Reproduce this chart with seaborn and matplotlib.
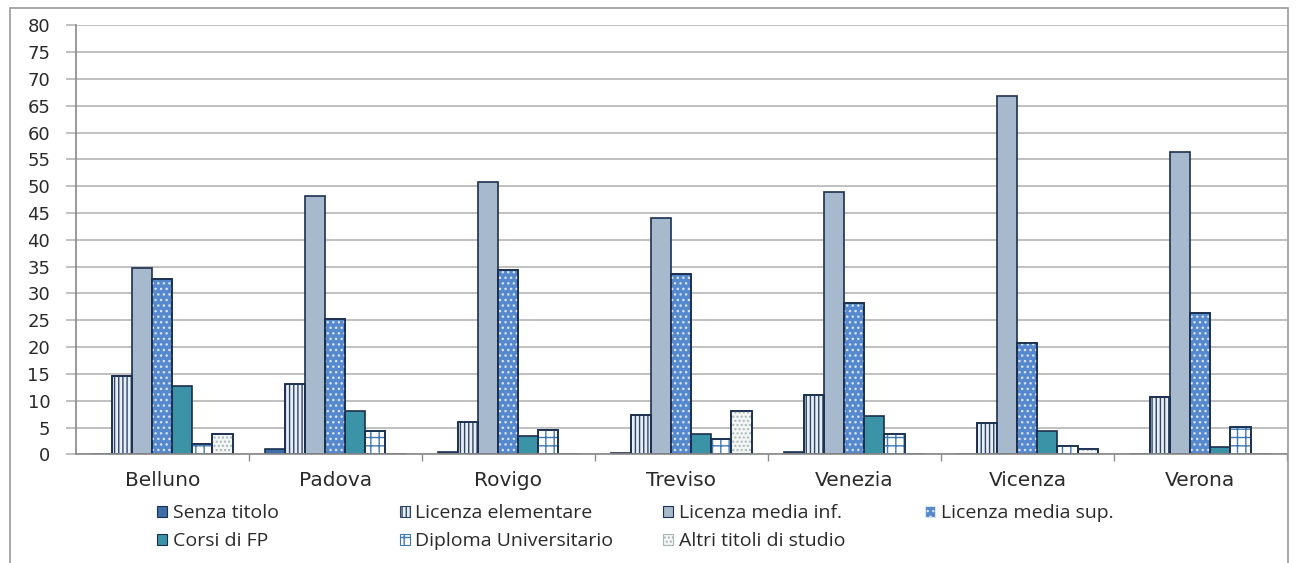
import pandas as pd
import matplotlib.pyplot as plt
import seaborn as sns
from matplotlib.patches import Rectangle, Patch

provinces = ["Belluno", "Padova", "Rovigo", "Treviso", "Venezia", "Vicenza", "Verona"]
levels = ["Senza titolo", "Licenza elementare", "Licenza media inf.",
          "Licenza media sup.", "Corsi di FP", "Diploma Universitario",
          "Altri titoli di studio"]

senza_titolo = [0.0, 1.0, 0.4, 0.3, 0.4, 0.0, 0.0]
lic_elementare = [14.7, 13.1, 6.1, 7.4, 11.0, 5.9, 10.7]
lic_media_inf = [34.7, 48.2, 50.8, 44.0, 49.0, 66.8, 56.4]
lic_media_sup = [32.7, 25.3, 34.4, 33.6, 28.2, 20.7, 26.4]
corsi_fp = [12.7, 8.1, 3.4, 3.7, 7.2, 4.3, 1.3]
diploma_univ = [2.0, 4.3, 4.6, 2.9, 3.8, 1.5, 5.1]
altri_titoli = [3.8, 0.0, 0.0, 8.1, 0.0, 1.0, 0.0]

series = [senza_titolo, lic_elementare, lic_media_inf, lic_media_sup,
          corsi_fp, diploma_univ, altri_titoli]

rows = []
for lev, vals in zip(levels, series):
    for prov, v in zip(provinces, vals):
        rows.append({"provincia": prov, "titolo": lev, "valore": v})
df = pd.DataFrame(rows)

EDGE = "#1c2f4f"
# face colour, hatch, hatch colour per series
styles = {
    "Senza titolo": ("#3d6ea8", None, None),
    "Licenza elementare": ("#e8eef6", "||||", "#2f4566"),
    "Licenza media inf.": ("#a7b9cd", None, None),
    "Licenza media sup.": ("#5588cc", "...", "#d6e4f5"),
    "Corsi di FP": ("#3a93a6", None, None),
    "Diploma Universitario": ("#ffffff", "++", "#3f78b5"),
    "Altri titoli di studio": ("#f3f6f4", "....", "#a8b8b8"),
}

sns.set_theme(style="white")
plt.rcParams["font.family"] = ["DejaVu Sans"]
plt.rcParams["hatch.linewidth"] = 1.0

fig = plt.figure(figsize=(12.98, 5.63), dpi=100)
ax = fig.add_axes([0.0585, 0.193, 0.933, 0.762])

sns.barplot(data=df, x="provincia", y="valore", hue="titolo",
            order=provinces, hue_order=levels, width=0.81,
            dodge=True, legend=False, ax=ax, saturation=1)


def hatch_overlay(target, bar, hatch, hcol):
    # same rectangle as the bar, on top, showing only a coloured hatch
    x, y = bar.get_xy()
    w, h = bar.get_width(), bar.get_height()
    z = bar.get_zorder()
    target.add_patch(Rectangle((x, y), w, h, facecolor="none", edgecolor=hcol,
                               linewidth=0, hatch=hatch, zorder=z + 0.1))
    target.add_patch(Rectangle((x, y), w, h, facecolor="none", edgecolor=EDGE,
                               linewidth=bar.get_linewidth(), zorder=z + 0.2))


for cont, lev in zip(ax.containers, levels):
    face, hatch, hcol = styles[lev]
    for bar in list(cont):
        bar.set_facecolor(face)
        bar.set_edgecolor(EDGE)
        bar.set_linewidth(1.2)
        if hatch and bar.get_height() > 0:
            hatch_overlay(ax, bar, hatch, hcol)

ax.set_ylim(0, 80)
ax.set_yticks(range(0, 81, 5))
ax.set_xlim(-0.5, len(provinces) - 0.5)
ax.yaxis.grid(True, color="#b5b5b5", linewidth=1.2)
ax.set_axisbelow(True)
for s in ["top", "right"]:
    ax.spines[s].set_visible(False)
ax.spines["left"].set_color("#8c8c8c")
ax.spines["bottom"].set_color("#8c8c8c")
ax.set_xlabel("")
ax.set_ylabel("")
ax.tick_params(axis="y", length=7.5, width=1.2, color="#b5b5b5", labelsize=13,
               pad=11, left=True, labelcolor="#2a2a2a")
ax.tick_params(axis="x", length=0, labelsize=14.5, pad=12, labelcolor="#2a2a2a")
# small ticks at category boundaries
ax.set_xticks([i + 0.5 for i in range(len(provinces))], minor=True)
ax.tick_params(axis="x", which="minor", length=5, color="#8c8c8c", bottom=True)

# legend, drawn column by column to match the fixed column widths
legend_cols = [["Senza titolo", "Corsi di FP"],
               ["Licenza elementare", "Diploma Universitario"],
               ["Licenza media inf.", "Altri titoli di studio"],
               ["Licenza media sup."]]
col_x = [0.121, 0.308, 0.511, 0.713]


def legend_handle(lev):
    face, hatch, hcol = styles[lev]
    return Patch(facecolor=face, edgecolor=hcol if hatch else EDGE,
                 hatch=hatch, linewidth=0.8)


for labels, x0 in zip(legend_cols, col_x):
    lg = fig.legend([legend_handle(l) for l in labels], labels, ncol=1,
                    loc="upper left", bbox_to_anchor=(x0, 0.104),
                    frameon=False, prop={"family": "Open Sans", "size": 14},
                    handlelength=0.5, handleheight=0.5, handletextpad=0.3,
                    labelspacing=0.5, borderaxespad=0, borderpad=0)
    for t in lg.get_texts():
        t.set_color("#2a2a2a")

# outer frame of the chart
fig.patches.append(Rectangle((0.008, -0.02), 0.984, 1.005,
                             transform=fig.transFigure, fill=False,
                             edgecolor="#9a9a9a", linewidth=1.2))

fig.savefig("out.png", dpi=100, facecolor="white")
